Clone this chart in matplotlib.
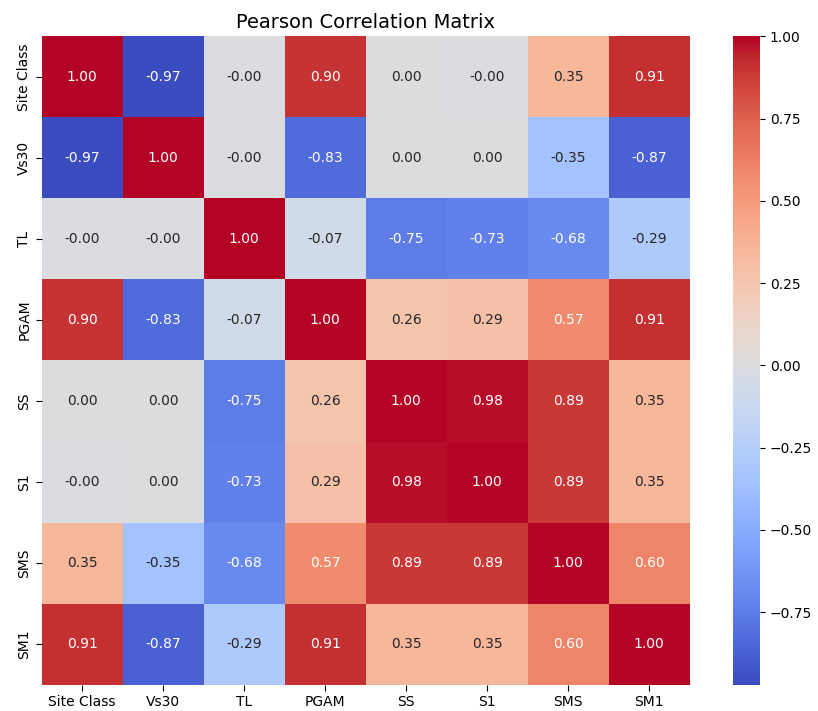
import matplotlib
matplotlib.use("Agg")
import matplotlib.pyplot as plt
import seaborn as sns
import numpy as np
import pandas as pd

labels = ["Site Class", "Vs30", "TL", "PGAM", "SS", "S1", "SMS", "SM1"]

row_site = [1.00, -0.97, -0.001, 0.90, 0.001, -0.001, 0.35, 0.91]
row_vs30 = [-0.97, 1.00, -0.001, -0.83, 0.001, 0.001, -0.35, -0.87]
row_tl = [-0.001, -0.001, 1.00, -0.07, -0.75, -0.73, -0.68, -0.29]
row_pgam = [0.90, -0.83, -0.07, 1.00, 0.26, 0.29, 0.57, 0.91]
row_ss = [0.001, 0.001, -0.75, 0.26, 1.00, 0.98, 0.89, 0.35]
row_s1 = [-0.001, 0.001, -0.73, 0.29, 0.98, 1.00, 0.89, 0.35]
row_sms = [0.35, -0.35, -0.68, 0.57, 0.89, 0.89, 1.00, 0.60]
row_sm1 = [0.91, -0.87, -0.29, 0.91, 0.35, 0.35, 0.60, 1.00]

corr = pd.DataFrame([row_site, row_vs30, row_tl, row_pgam, row_ss, row_s1, row_sms, row_sm1],
                    index=labels, columns=labels)

fig = plt.figure(figsize=(8.18, 7.11), dpi=100)
ax = fig.add_axes([0.051, 0.037, 0.792, 0.912])
cax = fig.add_axes([0.896, 0.037, 0.033, 0.912])

sns.heatmap(corr, annot=True, fmt=".2f", cmap="coolwarm", ax=ax, cbar_ax=cax,
            vmin=-0.97, vmax=1.0)
ax.set_title("Pearson Correlation Matrix", fontsize=14)
ax.tick_params(length=4)

fig.savefig("out.png", dpi=100)
